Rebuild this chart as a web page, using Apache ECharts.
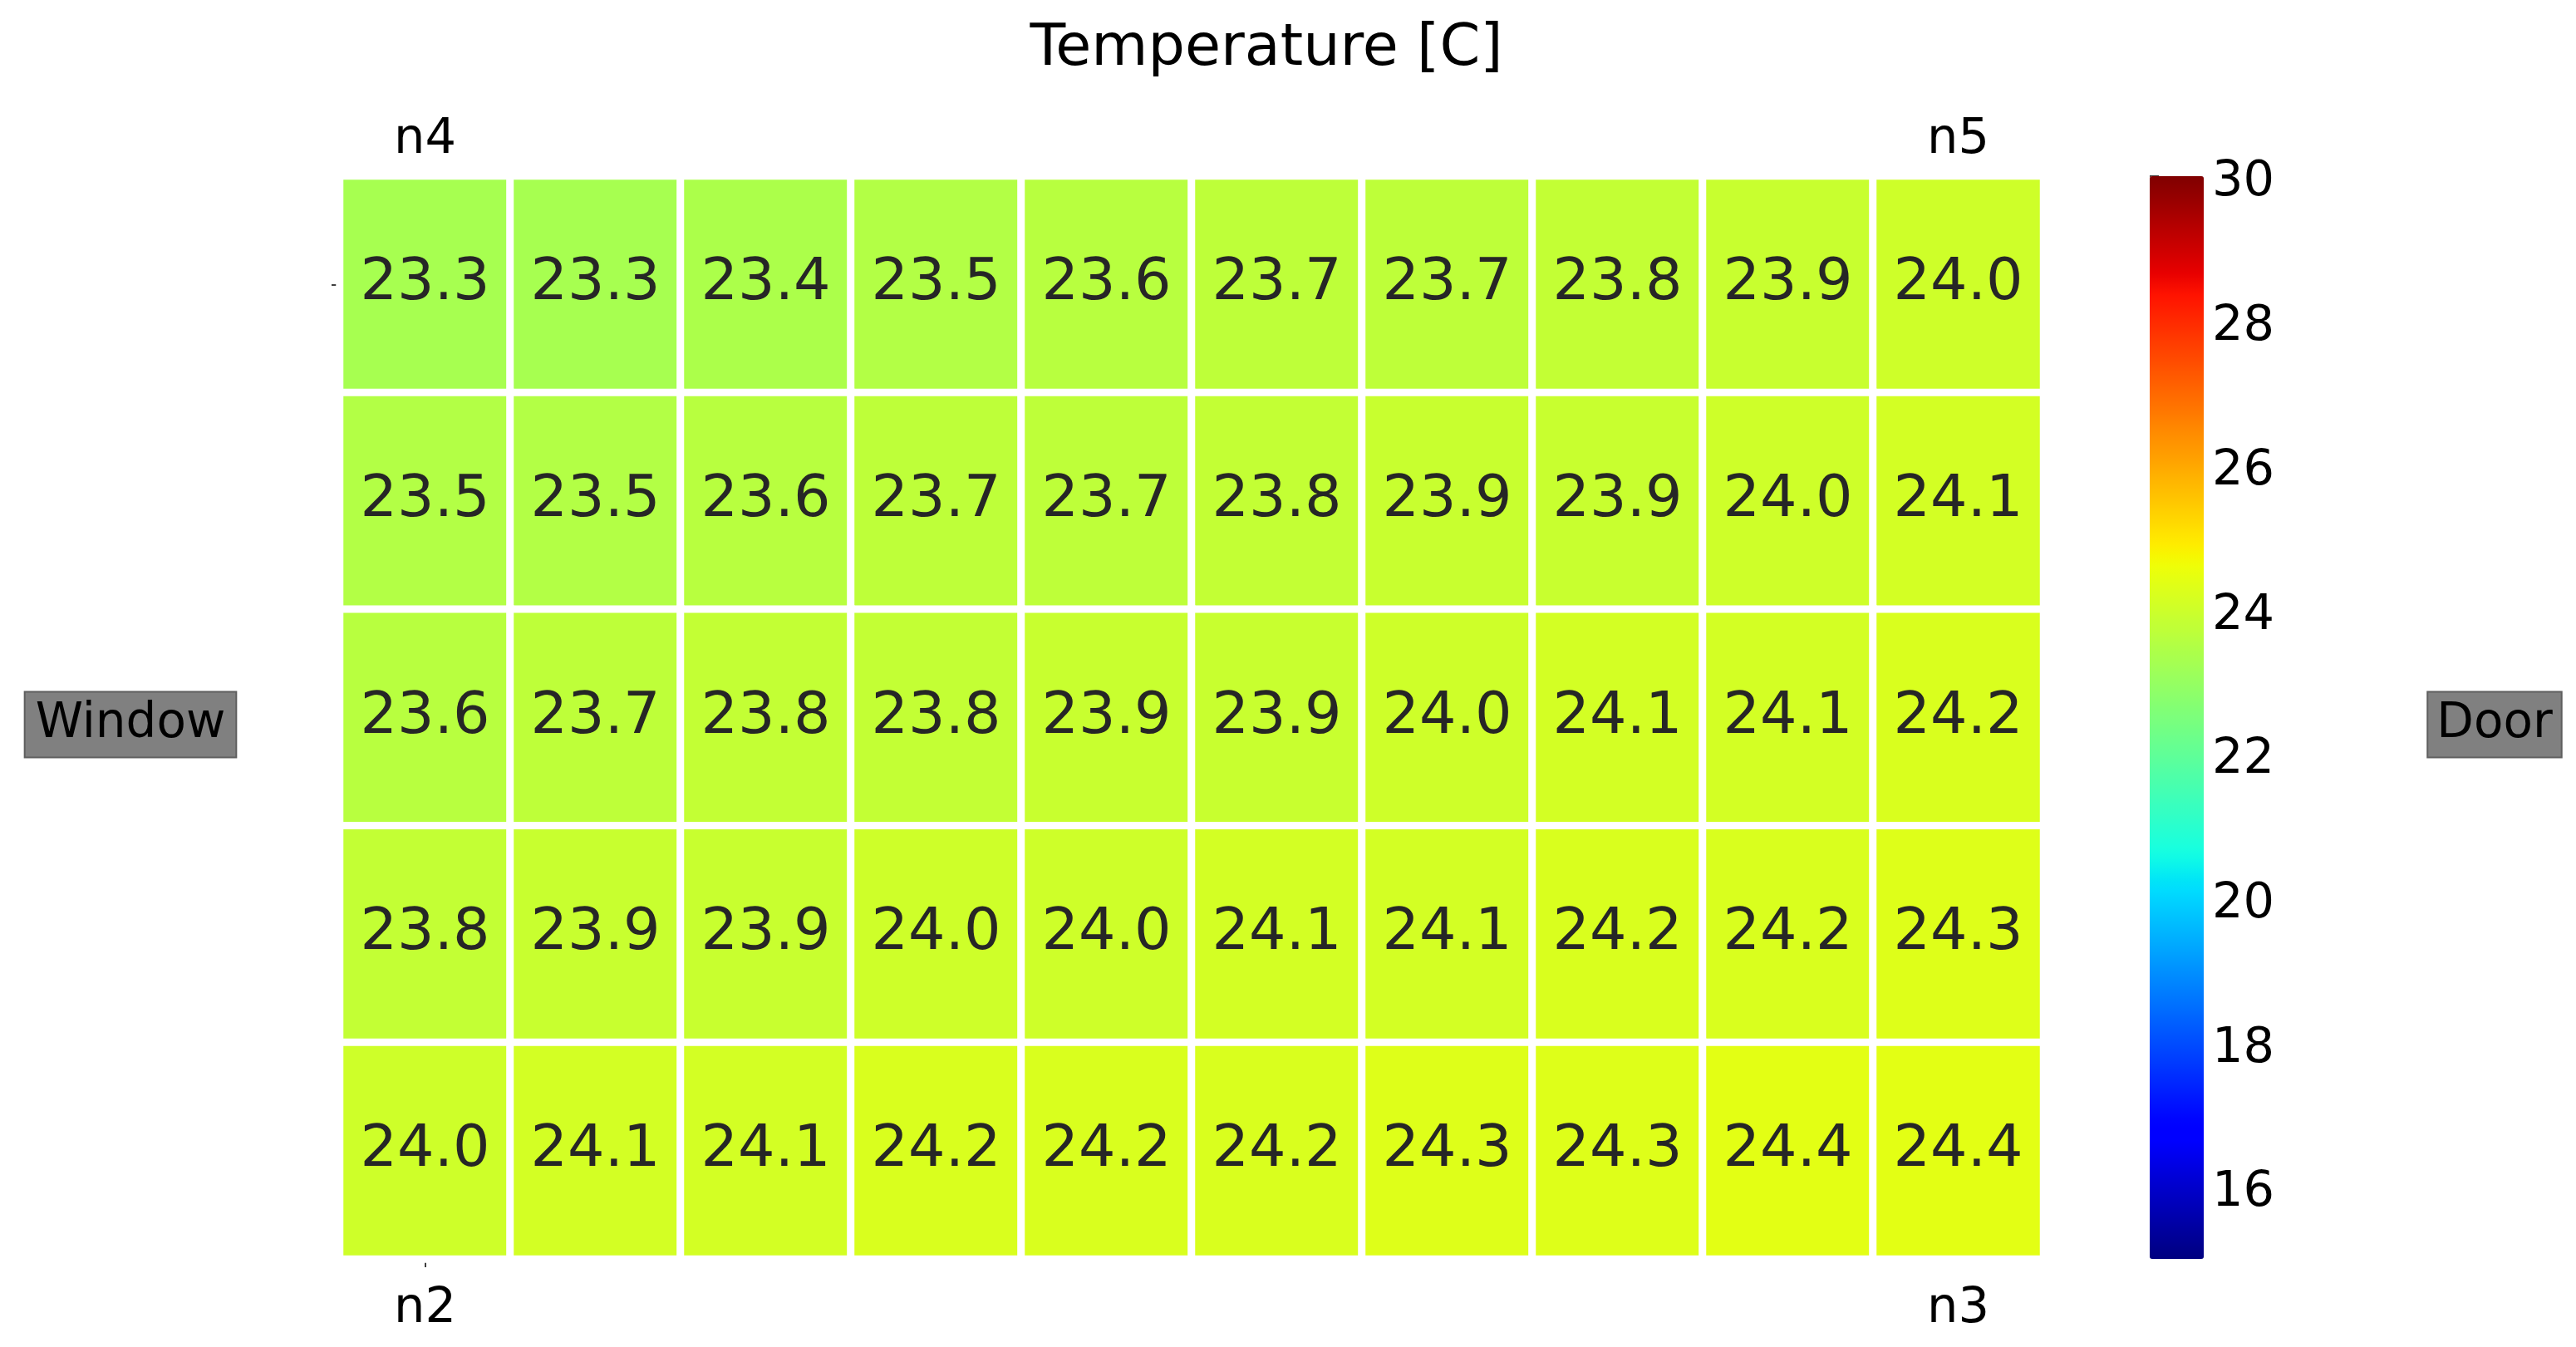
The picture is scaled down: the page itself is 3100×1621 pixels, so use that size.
<!DOCTYPE html>
<html>
<head>
<meta charset="utf-8">
<script src="https://cdn.jsdelivr.net/npm/echarts@6/dist/echarts.min.js"></script>
<style>
html,body{margin:0;padding:0;background:#fff;}
#chart{width:3100px;height:1621px;}
</style>
</head>
<body>
<div id="chart"></div>
<script>
// ---- Data ----
const columns = ['0','1','2','3','4','5','6','7','8','9'];
const rows = ['0','1','2','3','4'];
const topLabels = ['n4','','','','','','','','','n5'];
const bottomLabels = ['n2','','','','','','','','','n3'];
const row1 = [23.3, 23.3, 23.4, 23.5, 23.6, 23.7, 23.7, 23.8, 23.9, 24.0];
const row2 = [23.5, 23.5, 23.6, 23.7, 23.7, 23.8, 23.9, 23.9, 24.0, 24.1];
const row3 = [23.6, 23.7, 23.8, 23.8, 23.9, 23.9, 24.0, 24.1, 24.1, 24.2];
const row4 = [23.8, 23.9, 23.9, 24.0, 24.0, 24.1, 24.1, 24.2, 24.2, 24.3];
const row5 = [24.0, 24.1, 24.1, 24.2, 24.2, 24.2, 24.3, 24.3, 24.4, 24.4];
const colorbarTicks = [16, 18, 20, 22, 24, 26, 28, 30];
const colorMin = 15, colorMax = 30;
const titleText = 'Temperature [C]';
const leftSideLabel = 'Window';
const rightSideLabel = 'Door';

// ---- jet colormap (matplotlib segment definition) ----
const jetSeg = {
  r: [[0,0],[0.35,0],[0.66,1],[0.89,1],[1,0.5]],
  g: [[0,0],[0.125,0],[0.375,1],[0.64,1],[0.91,0],[1,0]],
  b: [[0,0.5],[0.11,1],[0.34,1],[0.65,0],[1,0]]
};
function segVal(seg, t){
  for (let i=1;i<seg.length;i++){
    if (t <= seg[i][0]){
      const a = seg[i-1], b = seg[i];
      return a[1] + (b[1]-a[1])*(t-a[0])/(b[0]-a[0]);
    }
  }
  return seg[seg.length-1][1];
}
const jetColors = [];
const N = 256;
for (let i=0;i<N;i++){
  const t = i/(N-1);
  const r = Math.round(segVal(jetSeg.r,t)*255);
  const g = Math.round(segVal(jetSeg.g,t)*255);
  const b = Math.round(segVal(jetSeg.b,t)*255);
  jetColors.push('rgb('+r+','+g+','+b+')');
}

const grid = [row1,row2,row3,row4,row5];
const heatData = [];
grid.forEach((r, yi) => r.forEach((v, xi) => heatData.push([xi, yi, v])));

const FONT = 'DejaVu Sans';
const GL = 409, GT = 212, GW = 2050, GH = 1303;

const chart = echarts.init(document.getElementById('chart'), null, {renderer:'canvas'});
chart.setOption({
  animation: false,
  backgroundColor: '#ffffff',
  title: {
    text: titleText,
    left: 1519, top: 20,
    textAlign: 'center',
    textStyle: {fontFamily: FONT, fontSize: 70, fontWeight: 'normal', color: '#000'}
  },
  grid: [
    {left: GL, top: GT, width: GW, height: GH, containLabel: false},
    {left: 2587, top: GT, width: 65, height: GH, containLabel: false}
  ],
  xAxis: [
    {
      type: 'category', data: columns, gridIndex: 0, position: 'bottom',
      axisLine: {show: false},
      axisTick: {show: true, alignWithLabel: true, length: 10, interval: (i) => i === 0,
                 lineStyle: {color: '#000', width: 1.5}},
      axisLabel: {interval: 0, margin: 31, fontFamily: FONT, fontSize: 59, color: '#000',
                  formatter: (v, i) => bottomLabels[i]},
      splitLine: {show: false}
    },
    {
      type: 'category', data: columns, gridIndex: 0, position: 'top',
      axisLine: {show: false},
      axisTick: {show: false},
      axisLabel: {interval: 0, margin: 14, fontFamily: FONT, fontSize: 59, color: '#000',
                  formatter: (v, i) => topLabels[i]},
      splitLine: {show: false}
    },
    {
      type: 'value', gridIndex: 1, min: 0, max: 1, show: false
    }
  ],
  yAxis: [
    {
      type: 'category', data: rows, gridIndex: 0, inverse: true,
      axisLine: {show: false},
      axisTick: {show: true, alignWithLabel: true, length: 10, interval: (i) => i === 0,
                 lineStyle: {color: '#000', width: 1.5}},
      axisLabel: {show: false},
      splitLine: {show: false}
    },
    {
      type: 'value', gridIndex: 1, position: 'right', min: colorMin, max: colorMax,
      axisLine: {show: false},
      axisTick: {show: true, length: 11, lineStyle: {color: '#000', width: 1.5},
                 customValues: colorbarTicks},
      axisLabel: {show: true, margin: 10, color: '#000',
                  customValues: colorbarTicks,
                  formatter: (v) => '{t|' + v + '}',
                  rich: {t: {fontFamily: FONT, fontSize: 59, color: '#000', padding: [16, 0, 0, 0]}}},
      splitLine: {show: false}
    }
  ],
  visualMap: {
    type: 'continuous',
    seriesIndex: 0,
    min: colorMin, max: colorMax,
    calculable: false,
    hoverLink: false,
    orient: 'vertical',
    left: 2587, top: GT,
    itemWidth: 65, itemHeight: GH,
    padding: 0,
    text: null,
    showLabel: false,
    inRange: {color: jetColors}
  },
  series: [{
    type: 'heatmap',
    xAxisIndex: 0, yAxisIndex: 0,
    data: heatData,
    itemStyle: {borderColor: '#ffffff', borderWidth: 9},
    label: {
      show: true,
      fontFamily: FONT, fontSize: 70, color: '#262626',
      formatter: (p) => p.value[2].toFixed(1)
    },
    emphasis: {disabled: true}
  }],
  graphic: [
    {
      type: 'text', x: 157, y: 872,
      style: {
        text: leftSideLabel, fontFamily: FONT, fontSize: 58, fill: '#000',
        align: 'center', verticalAlign: 'middle', lineHeight: 63,
        backgroundColor: '#808080', borderColor: '#5e5e5e', borderWidth: 2,
        padding: [7, 12, 7, 12]
      }
    },
    {
      type: 'text', x: 3002, y: 872,
      style: {
        text: rightSideLabel, fontFamily: FONT, fontSize: 58, fill: '#000',
        align: 'center', verticalAlign: 'middle', lineHeight: 63,
        backgroundColor: '#808080', borderColor: '#5e5e5e', borderWidth: 2,
        padding: [7, 10, 7, 10]
      }
    }
  ]
});
</script>
</body>
</html>
